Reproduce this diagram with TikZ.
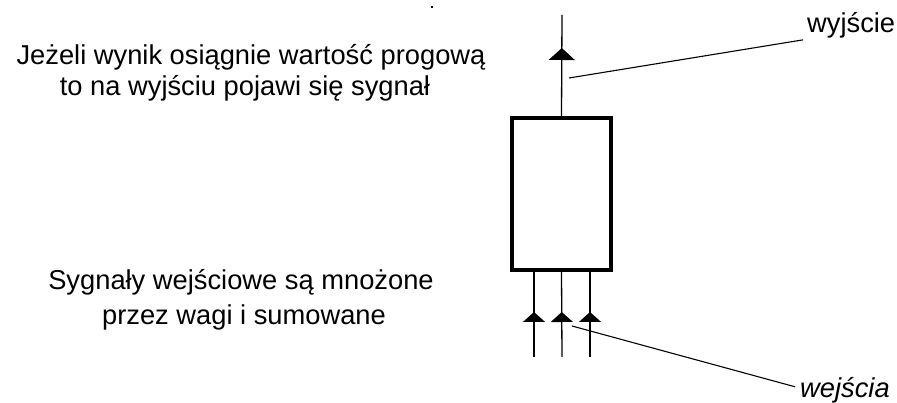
\documentclass[tikz,border=0pt]{standalone}
\usepackage{fontspec}
\setmainfont{Liberation Sans}
\usetikzlibrary{arrows.meta,decorations.markings}
\tikzset{
  lbl/.style={inner sep=0pt, font=\fontsize{27.3}{31}\selectfont},
  wire/.style={line width=1.3pt},
  leader/.style={line width=1.1pt},
  upin/.style={wire, decoration={markings, mark=at position 45pt with {\arrow{Triangle[width=22pt,length=10pt]}}}, postaction={decorate}},
  upout/.style={wire, decoration={markings, mark=at position 68pt with {\arrow{Triangle[width=26pt,length=12pt]}}}, postaction={decorate}},
  neuron/.style={draw, line width=4pt, minimum width=99pt, minimum height=152pt, inner sep=0pt}
}
\begin{document}
\begin{tikzpicture}[x=1pt,y=-1pt]
\useasboundingbox (0,0) rectangle (897,403);
% neuron box
\node[neuron] (box) at (561.5,194) {};
% output
\coordinate (outtop) at (562,15);
\draw[upout] (box.north) -- (outtop);
% inputs
\coordinate (in1) at (534,357);
\coordinate (in2) at (562,357);
\coordinate (in3) at (590,357);
\draw[upin] (in1) -- (in1 |- box.south);
\draw[upin] (in2) -- (box.south);
\draw[upin] (in3) -- (in3 |- box.south);
% texts
\node[lbl, anchor=base] (t1) at (251,65) {Jeżeli wynik osiągnie wartość progową};
\node[lbl, anchor=base] (t2) at (245,96) {to na wyjściu pojawi się sygnał};
\node[lbl, anchor=base] (t3) at (241,290) {Sygnały wejściowe są mnożone};
\node[lbl, anchor=base] (t4) at (244,324) {przez wagi i sumowane};
\node[lbl, anchor=base west] (wyj) at (807,33) {wyjście};
\node[lbl, anchor=base west, font=\fontsize{27.3}{31}\selectfont\itshape] (wej) at (800,397) {wejścia};
% leaders
\coordinate (lo) at (569,78);
\coordinate (li) at (572,326);
\draw[leader] (lo) -- ([xshift=-4pt,yshift=-1pt]wyj.south west);
\draw[leader] (li) -- ([xshift=-5pt,yshift=3pt]wej.west);
% stray dot
\fill (431.3,6.3) rectangle (432.7,7.7);
\end{tikzpicture}
\end{document}
